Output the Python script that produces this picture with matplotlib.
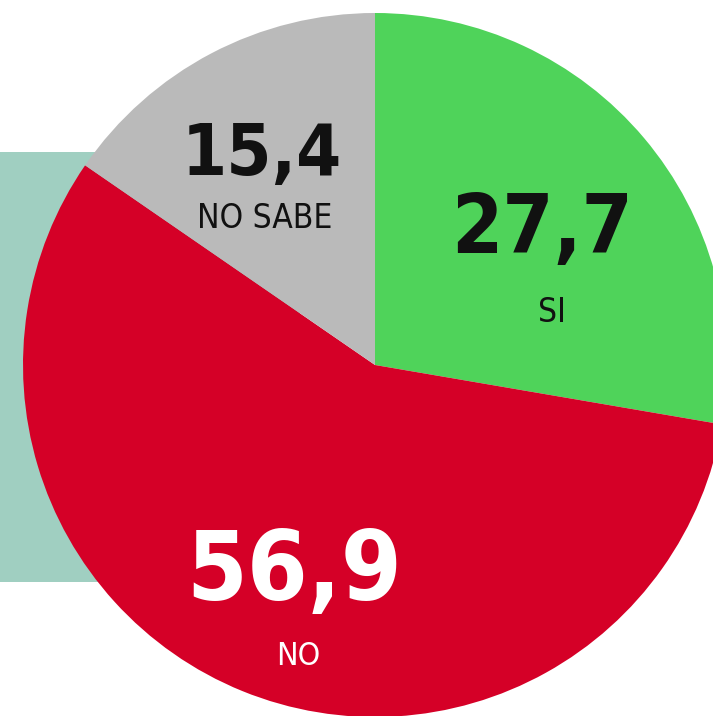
import matplotlib
matplotlib.use("Agg")
import matplotlib.pyplot as plt
from matplotlib.patches import Rectangle
from matplotlib import font_manager

categories = ["SI", "NO", "NO SABE"]
values = [27.7, 56.9, 15.4]
value_labels = ["27,7", "56,9", "15,4"]
colors = ["#4fd35a", "#d50027", "#bababa"]
text_colors = ["#111111", "#ffffff", "#111111"]

W, H = 713, 716
fig = plt.figure(figsize=(W / 100, H / 100), dpi=100)
ax = fig.add_axes([0, 0, 1, 1])

# teal background panel
ax.add_patch(Rectangle((0, H - 582), 300, 430, facecolor="#a0cfc1", edgecolor="none", zorder=0))

cx, cy, r = 375, H - 365, 352
ax.pie(values, colors=colors, startangle=90, counterclock=False,
       center=(cx, cy), radius=r, wedgeprops=dict(linewidth=0), frame=True)
ax.set_xlim(0, W)
ax.set_ylim(0, H)
ax.set_aspect("equal")
ax.axis("off")

names = {f.name for f in font_manager.fontManager.ttflist}
fam = ["Liberation Sans Narrow"] if "Liberation Sans Narrow" in names else ["DejaVu Sans"]

# (value x, value baseline y, value size, label x, label baseline y, label size)
pos = {
    "SI": (542, 253, 59, 552, 322, 24),
    "NO": (294, 600, 70, 298, 665, 23),
    "NO SABE": (262, 175, 52, 265, 228, 24),
}
for cat, vl, tc in zip(categories, value_labels, text_colors):
    vx, vy, vs, lx, ly, ls = pos[cat]
    ax.text(vx, H - vy, vl, ha="center", va="baseline", fontsize=vs,
            fontweight="bold", family=fam, fontstretch="condensed", color=tc)
    ax.text(lx, H - ly, cat, ha="center", va="baseline", fontsize=ls,
            family=fam, fontstretch="condensed", color=tc)

fig.savefig("out.png", dpi=100)
